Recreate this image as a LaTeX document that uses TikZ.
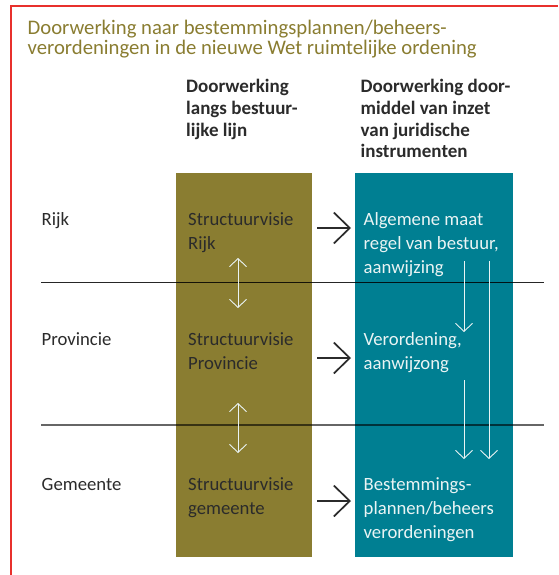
\documentclass[tikz,border=0pt]{standalone}
\usepackage{fontspec}
\setmainfont{Carlito}
\usetikzlibrary{arrows.meta}
\definecolor{olivebox}{HTML}{8A7D31}
\definecolor{tealbox}{HTML}{007F92}
\definecolor{titlecol}{HTML}{8A7D31}
\definecolor{redframe}{HTML}{E8302C}
\definecolor{darktext}{HTML}{2B2B2B}
\definecolor{lighttext}{HTML}{EAF4F4}
\begin{document}
\begin{tikzpicture}[x=1pt,y=-1pt,
  ln/.style={anchor=base west,inner sep=0pt,font=\fontsize{18.7}{22}\selectfont},
  dk/.style={ln,text=darktext},
  lt/.style={ln,text=lighttext},
  head/.style={anchor=base west,inner sep=0pt,font=\fontsize{19}{21}\selectfont\bfseries,text=darktext},
  ttl/.style={anchor=base west,inner sep=0pt,text=titlecol,font=\fontsize{20.7}{22}\selectfont},
  blk/.style={-{Straight Barb[length=16pt,width=31pt]},line width=1.7pt,darktext},
  wdbl/.style={{Straight Barb[length=8pt,width=17pt]}-{Straight Barb[length=8pt,width=17pt]},line width=0.9pt,lighttext},
  wdown/.style={-{Straight Barb[length=8pt,width=17pt]},line width=0.9pt,lighttext},
  sep/.style={line width=1.4pt,black,opacity=0.85}]
\useasboundingbox (0,0) rectangle (558,575);
\fill[white] (0,0) rectangle (558,575);
% red frame
\draw[redframe,line width=2.4pt] (11,575) -- (11,6) -- (558,6);
% title
\node[ttl] (title1) at (27.5,35) {Doorwerking naar bestemmingsplannen/beheers-};
\node[ttl] (title2) at (27.5,55) {verordeningen in de nieuwe Wet ruimtelijke ordening};
% headers
\node[head] (h1a) at (186,93) {Doorwerking};
\node[head] (h1b) at (186,114.5) {langs bestuur-};
\node[head] (h1c) at (186,136) {lijke lijn};
\node[head] (h2a) at (360.5,93) {Doorwerking door-};
\node[head] (h2b) at (360.5,114.5) {middel van inzet};
\node[head] (h2c) at (360.5,136) {van juridische};
\node[head] (h2d) at (360.5,157) {instrumenten};
% boxes
\fill[olivebox] (176,173) rectangle (312,557);
\fill[tealbox] (355,173) rectangle (513,557);
% separator lines
\coordinate (s1a) at (41,282.5); \coordinate (s1b) at (544,282.5);
\coordinate (s2a) at (41,425); \coordinate (s2b) at (544,425);
\draw[sep] (s1a) -- (s1b);
\draw[sep,opacity=0.6] (s2a) -- (s2b);
% row labels
\node[dk] (r1) at (41.5,225.5) {Rijk};
\node[dk] (r2) at (41.5,345) {Provincie};
\node[dk] (r3) at (41.5,490) {Gemeente};
% olive texts
\node[dk] (o1a) at (188,225.5) {Structuurvisie};
\node[dk] (o1b) at (188,249) {Rijk};
\node[dk] (o2a) at (188,345) {Structuurvisie};
\node[dk] (o2b) at (188,369) {Provincie};
\node[dk] (o3a) at (188,490) {Structuurvisie};
\node[dk] (o3b) at (188,514) {gemeente};
% teal texts
\node[lt] (t1a) at (363.5,225.5) {Algemene maat};
\node[lt] (t1b) at (363.5,249.5) {regel van bestuur,};
\node[lt] (t1c) at (363.5,273) {aanwijzing};
\node[lt] (t2a) at (363.5,345) {Verordening,};
\node[lt] (t2b) at (363.5,369) {aanwijzong};
\node[lt] (t3a) at (363.5,490) {Bestemmings-};
\node[lt] (t3b) at (363.5,514) {plannen/beheers};
\node[lt] (t3c) at (363.5,538) {verordeningen};
% black arrows
\coordinate (a1s) at (317,228); \coordinate (a1e) at (351,228);
\coordinate (a2s) at (317,358); \coordinate (a2e) at (351,358);
\coordinate (a3s) at (317,501); \coordinate (a3e) at (351,501);
\draw[blk] (a1s) -- (a1e);
\draw[blk] (a2s) -- (a2e);
\draw[blk] (a3s) -- (a3e);
% white double arrows
\coordinate (d1s) at (238,258); \coordinate (d1e) at (238,308);
\coordinate (d2s) at (238,403); \coordinate (d2e) at (238,453);
\draw[wdbl] (d1s) -- (d1e);
\draw[wdbl] (d2s) -- (d2e);
% white down arrows
\coordinate (w1s) at (464,261); \coordinate (w1e) at (464,332);
\coordinate (w2s) at (464,380); \coordinate (w2e) at (464,459);
\coordinate (w3s) at (489,261); \coordinate (w3e) at (489,459);
\draw[wdown] (w1s) -- (w1e);
\draw[wdown] (w2s) -- (w2e);
\draw[wdown] (w3s) -- (w3e);
\end{tikzpicture}
\end{document}
